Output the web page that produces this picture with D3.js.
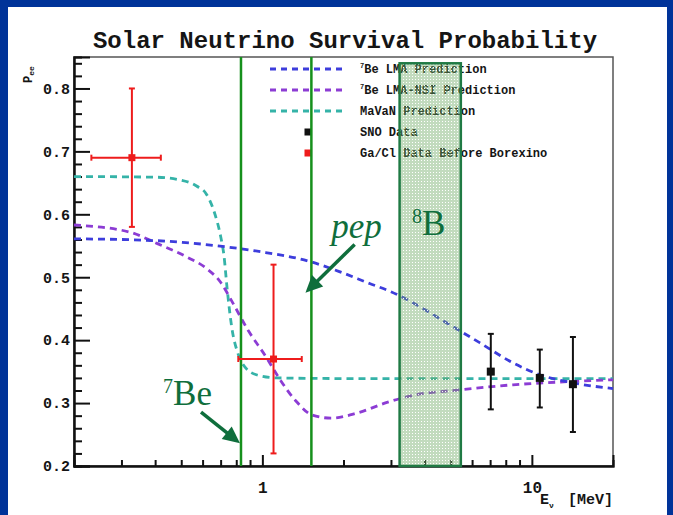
<!DOCTYPE html>
<html>
<head>
<meta charset="utf-8">
<script src="https://cdn.jsdelivr.net/npm/d3@7"></script>
<style>
  html, body { margin: 0; padding: 0; background: #003399; }
  svg { display: block; }
</style>
</head>
<body>
<svg id="chart" width="673" height="515"></svg>
<script>
// ---- Data: neutrino energy E (MeV) vs. survival probability P_ee ----
const lmaCurve = [
  [0.2, 0.561], [0.36, 0.559], [0.52, 0.555], [0.71, 0.549], [0.97, 0.541],
  [1.5, 0.525], [1.93, 0.509], [2.5, 0.490], [3.0, 0.477], [3.6, 0.460],
  [4.8, 0.428], [6.4, 0.396], [8.5, 0.364], [10.7, 0.345], [13.5, 0.334], [20, 0.323]
];
const nsiCurve = [
  [0.2, 0.583], [0.32, 0.572], [0.41, 0.553], [0.52, 0.533], [0.62, 0.514],
  [0.70, 0.492], [0.77, 0.462], [0.89, 0.414], [1.03, 0.374], [1.16, 0.338],
  [1.34, 0.302], [1.53, 0.281], [1.8, 0.276], [2.24, 0.284], [2.9, 0.301],
  [3.6, 0.312], [5.4, 0.321], [8.5, 0.329], [13.5, 0.334], [20, 0.337]
];
const mavanCurve = [
  [0.2, 0.660], [0.4, 0.659], [0.49, 0.655], [0.57, 0.645], [0.62, 0.632],
  [0.66, 0.606], [0.70, 0.565], [0.72, 0.535], [0.74, 0.482], [0.77, 0.420],
  [0.81, 0.380], [0.84, 0.364], [0.95, 0.345], [1.13, 0.340], [2, 0.339], [20, 0.339]
];
// Ga/Cl measurements: energy, value, energy range, probability range
const gaClData = [
  { e: 0.328, p: 0.69, eLo: 0.232, eHi: 0.42, pLo: 0.58, pHi: 0.80 },
  { e: 1.10,  p: 0.37, eLo: 0.814, eHi: 1.40, pLo: 0.22, pHi: 0.52 }
];
// SNO measurements
const snoData = [
  { e: 7.04, p: 0.35, pLo: 0.290, pHi: 0.410 },
  { e: 10.7, p: 0.34, pLo: 0.293, pHi: 0.385 },
  { e: 14.2, p: 0.33, pLo: 0.254, pHi: 0.405 }
];
// Monoenergetic lines (7Be, pep) and the 8B window
const lineEnergies = [0.833, 1.52];
const boronBand = { eLo: 3.23, eHi: 5.45, pTop: 0.84 };

// Axis ticks
const xDomain = [0.2, 20];
const yDomain = [0.2, 0.85];
const xMajorTicks = [1, 10];
const xMinorTicks = [0.3, 0.4, 0.5, 0.6, 0.7, 0.8, 0.9, 2, 3, 4, 5, 6, 7, 8, 9];
const yMajorTicks = [0.2, 0.3, 0.4, 0.5, 0.6, 0.7, 0.8];
const yMinorTicks = d3.range(0.22, 0.85, 0.02).filter(v => Math.abs(v * 10 - Math.round(v * 10)) > 1e-6);

const legendItems = [
  { sup: "7", label: "Be LMA Prediction", kind: "line", color: "#3d3ddc" },
  { sup: "7", label: "Be LMA-NSI Prediction", kind: "line", color: "#8c3cd4" },
  { sup: "", label: "MaVaN Prediction", kind: "line", color: "#35b3a8" },
  { sup: "", label: "SNO Data", kind: "square", color: "#111111" },
  { sup: "", label: "Ga/Cl Data Before Borexino", kind: "square", color: "#ee1c1c" }
];

// Annotations placed in data coordinates
const annotations = [
  { sup: "", text: "pep", italic: true, e: 1.80, p: 0.562 },
  { sup: "8", text: "B", italic: false, e: 3.59, p: 0.567 },
  { sup: "7", text: "Be", italic: false, e: 0.428, p: 0.297 }
];
const arrows = [
  { from: [2.2, 0.552], to: [1.445, 0.4755] },
  { from: [0.592, 0.2855], to: [0.826, 0.236] }
];

// ---- Layout ----
const svg = d3.select("#chart");
const plot = { left: 74, right: 613, top: 57, bottom: 466 };
const x = d3.scaleLog().domain(xDomain).range([plot.left, plot.right]);
const y = d3.scaleLinear().domain(yDomain).range([plot.bottom, plot.top]);

const mono = "'Liberation Mono', 'DejaVu Sans Mono', monospace";
const serif = "'Liberation Serif', 'DejaVu Serif', serif";
const annGreen = "#0f6e3c";

// white slide panel inside blue frame
svg.append("rect").attr("x", 8).attr("y", 7).attr("width", 659).attr("height", 508).attr("fill", "#ffffff");

// texture for the 8B window
const defs = svg.append("defs");
const pat = defs.append("pattern").attr("id", "grid").attr("patternUnits", "userSpaceOnUse")
  .attr("width", 3).attr("height", 3);
pat.append("rect").attr("width", 3).attr("height", 3).attr("fill", "rgba(110,170,100,0.42)");
pat.append("rect").attr("x", 1).attr("y", 1).attr("width", 1).attr("height", 1).attr("fill", "#ffffff");

// title
svg.append("text").attr("x", 345).attr("y", 48).attr("text-anchor", "middle")
  .attr("font-family", mono).attr("font-weight", "bold").attr("font-size", 24).attr("fill", "#151515")
  .text("Solar Neutrino Survival Probability");

// frame
svg.append("rect").attr("x", plot.left).attr("y", plot.top)
  .attr("width", plot.right - plot.left).attr("height", plot.bottom - plot.top)
  .attr("fill", "none").attr("stroke", "#555").attr("stroke-width", 1.5);

// axes
function styleAxis(g) {
  g.select(".domain").attr("stroke", "#111").attr("stroke-width", 2);
  g.selectAll(".tick line").attr("stroke", "#111").attr("stroke-width", 2);
  g.selectAll(".tick text").attr("font-family", mono).attr("font-weight", "bold")
    .attr("font-size", 15).attr("fill", "#151515");
}
const yMinorAxis = svg.append("g").attr("transform", `translate(${plot.left},0)`)
  .call(d3.axisLeft(y).tickValues(yMinorTicks).tickSize(-8).tickFormat(""));
styleAxis(yMinorAxis);
const yAxis = svg.append("g").attr("transform", `translate(${plot.left},0)`)
  .call(d3.axisLeft(y).tickValues(yMajorTicks).tickSize(-16).tickPadding(4).tickFormat(d3.format(".1f")));
styleAxis(yAxis);
yAxis.selectAll(".tick text").attr("x", -4);

const xMinorAxis = svg.append("g").attr("transform", `translate(0,${plot.bottom})`)
  .call(d3.axisBottom(x).tickValues(xMinorTicks).tickSize(-6).tickFormat(""));
styleAxis(xMinorAxis);
const xAxis = svg.append("g").attr("transform", `translate(0,${plot.bottom})`)
  .call(d3.axisBottom(x).tickValues(xMajorTicks).tickSize(-11).tickFormat(d3.format("d")));
styleAxis(xAxis);
xAxis.selectAll(".tick text").attr("y", 16).attr("font-size", 16);

// axis titles
const yt = svg.append("text").attr("transform", "translate(32,83) rotate(-90)")
  .attr("font-family", mono).attr("font-weight", "bold").attr("font-size", 12).attr("fill", "#151515");
yt.append("tspan").text("P");
yt.append("tspan").attr("font-size", 8).attr("dy", 2).text("ee");

const xt = svg.append("text").attr("x", 540).attr("y", 504)
  .attr("font-family", mono).attr("font-weight", "bold").attr("font-size", 15).attr("fill", "#151515");
xt.append("tspan").text("E");
xt.append("tspan").attr("font-size", 8).attr("dy", 4).text("ν");
xt.append("tspan").attr("x", 568).attr("dy", -4).text("[MeV]");

// legend
const lg = svg.append("g");
legendItems.forEach((d, i) => {
  const cy = 69 + i * 21;
  if (d.kind === "line") {
    lg.append("line").attr("x1", 270).attr("x2", 346).attr("y1", cy).attr("y2", cy)
      .attr("stroke", d.color).attr("stroke-width", 2.8).attr("stroke-dasharray", "6,5");
  } else {
    lg.append("rect").attr("x", 304.5).attr("y", cy - 3.5).attr("width", 7).attr("height", 7).attr("fill", d.color);
  }
  const t = lg.append("text").attr("x", 360).attr("y", cy + 4)
    .attr("font-family", mono).attr("font-weight", "bold").attr("font-size", 12).attr("fill", "#151515");
  if (d.sup) t.append("tspan").attr("font-size", 7).attr("dy", -5).text(d.sup);
  t.append("tspan").attr("dy", d.sup ? 5 : 0).text(d.label);
});

// prediction curves
const line = d3.line().x(d => x(d[0])).y(d => y(d[1])).curve(d3.curveMonotoneX);
[[mavanCurve, legendItems[2].color], [nsiCurve, legendItems[1].color], [lmaCurve, legendItems[0].color]]
  .forEach(([data, color]) => {
    svg.append("path").datum(data).attr("d", line).attr("fill", "none")
      .attr("stroke", color).attr("stroke-width", 2.8).attr("stroke-dasharray", "7,5");
  });

// 8B window
svg.append("rect")
  .attr("x", x(boronBand.eLo)).attr("y", y(boronBand.pTop))
  .attr("width", x(boronBand.eHi) - x(boronBand.eLo)).attr("height", y(yDomain[0]) - y(boronBand.pTop))
  .attr("fill", "url(#grid)").attr("stroke", "#1f7a44").attr("stroke-width", 2.5);

// 7Be and pep lines
svg.selectAll(".eline").data(lineEnergies).enter().append("line")
  .attr("x1", d => x(d)).attr("x2", d => x(d)).attr("y1", plot.top).attr("y2", plot.bottom)
  .attr("stroke", "#16901c").attr("stroke-width", 2.5);

// data points with error bars
function drawPoints(data, color, size) {
  const g = svg.append("g").attr("stroke", color).attr("stroke-width", 2).attr("fill", color);
  data.forEach(d => {
    g.append("line").attr("x1", x(d.e)).attr("x2", x(d.e)).attr("y1", y(d.pLo)).attr("y2", y(d.pHi));
    g.append("line").attr("x1", x(d.e) - 3).attr("x2", x(d.e) + 3).attr("y1", y(d.pLo)).attr("y2", y(d.pLo));
    g.append("line").attr("x1", x(d.e) - 3).attr("x2", x(d.e) + 3).attr("y1", y(d.pHi)).attr("y2", y(d.pHi));
    if (d.eLo !== undefined) {
      g.append("line").attr("x1", x(d.eLo)).attr("x2", x(d.eHi)).attr("y1", y(d.p)).attr("y2", y(d.p));
      g.append("line").attr("x1", x(d.eLo)).attr("x2", x(d.eLo)).attr("y1", y(d.p) - 3).attr("y2", y(d.p) + 3);
      g.append("line").attr("x1", x(d.eHi)).attr("x2", x(d.eHi)).attr("y1", y(d.p) - 3).attr("y2", y(d.p) + 3);
    }
    g.append("rect").attr("x", x(d.e) - size / 2).attr("y", y(d.p) - size / 2)
      .attr("width", size).attr("height", size).attr("stroke", "none");
  });
}
drawPoints(gaClData, "#ee1c1c", 7);
drawPoints(snoData, "#111111", 8);

// annotations
annotations.forEach(a => {
  const t = svg.append("text").attr("x", x(a.e)).attr("y", y(a.p))
    .attr("font-family", serif).attr("font-size", 35).attr("fill", annGreen)
    .attr("font-style", a.italic ? "italic" : "normal");
  if (a.sup) t.append("tspan").attr("font-size", 20).attr("dy", -12).text(a.sup);
  t.append("tspan").attr("dy", a.sup ? 12 : 0).text(a.text);
});
arrows.forEach(a => {
  const x0 = x(a.from[0]), y0 = y(a.from[1]), x1 = x(a.to[0]), y1 = y(a.to[1]);
  const ang = Math.atan2(y1 - y0, x1 - x0);
  const headLen = 17, headW = 8;
  const bx = x1 - headLen * Math.cos(ang), by = y1 - headLen * Math.sin(ang);
  svg.append("line").attr("x1", x0).attr("y1", y0).attr("x2", bx + 2 * Math.cos(ang)).attr("y2", by + 2 * Math.sin(ang))
    .attr("stroke", annGreen).attr("stroke-width", 3.5);
  const px = -Math.sin(ang), py = Math.cos(ang);
  svg.append("path")
    .attr("d", `M${x1},${y1}L${bx + headW * px},${by + headW * py}L${bx - headW * px},${by - headW * py}Z`)
    .attr("fill", annGreen);
});
</script>
</body>
</html>
